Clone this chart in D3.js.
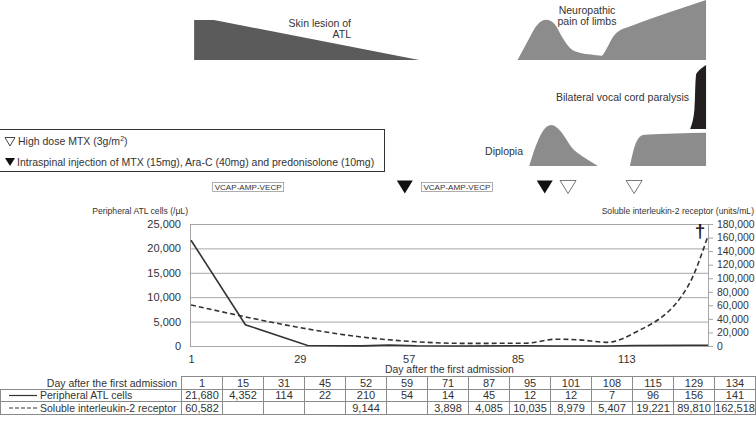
<!DOCTYPE html>
<html><head><meta charset="utf-8">
<script src="https://cdn.jsdelivr.net/npm/d3@7"></script>
<style>
html,body{margin:0;padding:0;background:#fff;}
svg{display:block;font-family:"Liberation Sans",Arial,sans-serif;}
</style></head><body>
<svg id="chart" width="756" height="424"></svg>
<script>
// ---------------- data ----------------
const days = [1, 15, 31, 45, 52, 59, 71, 87, 95, 101, 108, 115, 129, 134];
const atlCells = [21680, 4352, 114, 22, 210, 54, 14, 45, 12, 12, 7, 96, 156, 141];
const sil2r = [60582, null, null, null, 9144, null, 3898, 4085, 10035, 8979, 5407, 19221, 89810, 162518];
const xTicks = [1, 29, 57, 85, 113];
const leftTicks = [0, 5000, 10000, 15000, 20000, 25000];
const rightTicks = [0, 20000, 40000, 60000, 80000, 100000, 120000, 140000, 160000, 180000];
const seriesNames = ["Peripheral ATL cells", "Soluble interleukin-2 receptor"];
const leftTitle = "Peripheral ATL cells (/\u03bcL)";
const rightTitle = "Soluble interleukin-2 receptor (units/mL)";
const xTitle = "Day after the first admission";
const deathDay = 134;

// treatments
const intrathecalDays = [56, 92];
const hdMtxDays = [98, 115];
const vcapCenters = [15.7, 69.4];
const vcapLabel = "VCAP-AMP-VECP";

// symptom shapes: [day, relative intensity 0..1]
const skinLesion = [[1.8, 0.667], [6.9, 0.667], [59.7, 0]];
const neuropathic = [[85, 0], [87.5, 0.3], [90, 0.58], [92.4, 0.67], [94.5, 0.6], [96.5, 0.38], [98.5, 0.2], [101, 0.12], [104, 0.09], [106.6, 0.07], [108, 0.2], [109.5, 0.38], [111.5, 0.5], [113.5, 0.55], [133.5, 1]];
const diplopiaA = [[88, 0], [90.3, 0.63], [92.2, 0.93], [93.7, 1], [95.2, 0.93], [96.5, 0.8], [98.8, 0.47], [102.3, 0.2], [105.7, 0]];
const diplopiaB = [[113.9, 0], [115.1, 0.47], [116.4, 0.71], [117.7, 0.76], [133.5, 0.81]];
// vocal cord: [intensity, left edge day]
const vocalCord = [[0, 129.4], [0.11, 130.0], [0.3, 130.5], [0.61, 130.7], [0.84, 130.9], [0.92, 131.8], [1, 133.5]];

// ---------------- drawing ----------------
const svg = d3.select("#chart");
const txt = "#333";
const grid = "#a6a6a6";

const x = d3.scaleLinear().domain([1, 134]).range([191, 708]);
const plotL = 190, plotR = 708, plotT = 224, plotB = 346;
const yL = d3.scaleLinear().domain([0, 25000]).range([plotB, plotT]);
const yR = d3.scaleLinear().domain([0, 180000]).range([plotB, plotT]);

// symptom rows
const rowTop = d3.scaleLinear().domain([0, 1]).range([60, 0]);
const rowVocal = d3.scaleLinear().domain([0, 1]).range([129, 65]);
const rowDip = d3.scaleLinear().domain([0, 1]).range([166, 125]);

function areaFor(yScale, curve) {
  return d3.area().x(d => x(d[0])).y0(yScale(0)).y1(d => yScale(d[1])).curve(curve);
}
svg.append("path").attr("d", areaFor(rowTop, d3.curveLinear)(skinLesion)).attr("fill", "#5b5b5b");
svg.append("path").attr("d", areaFor(rowTop, d3.curveMonotoneX)(neuropathic)).attr("fill", "#8c8c8c");
svg.append("path").attr("d", areaFor(rowDip, d3.curveMonotoneX)(diplopiaA)).attr("fill", "#8c8c8c");
svg.append("path").attr("d", areaFor(rowDip, d3.curveMonotoneX)(diplopiaB)).attr("fill", "#8c8c8c");
svg.append("path")
  .attr("d", d3.area().y(d => rowVocal(d[0])).x0(d => x(d[1])).x1(x(133.5)).curve(d3.curveMonotoneY)(vocalCord))
  .attr("fill", "#231f20");

const symFont = "10.5px";
function multiText(lines, xx, y0, lh, anchor) {
  const t = svg.append("text").attr("x", xx).attr("y", y0).attr("text-anchor", anchor)
    .attr("font-size", symFont).attr("fill", txt);
  lines.forEach((l, i) => t.append("tspan").attr("x", xx).attr("dy", i === 0 ? 0 : lh).text(l));
}
multiText(["Skin lesion of", "ATL"], 351, 27, 10.5, "end");
multiText(["Neuropathic", "pain of limbs"], 587, 14, 10.8, "middle");
multiText(["Bilateral vocal cord paralysis"], 689, 101, 0, "end");
multiText(["Diplopia"], 523, 155, 0, "end");

// legend box
svg.append("rect").attr("x", -0.5).attr("y", 129.5).attr("width", 385).attr("height", 42)
  .attr("fill", "none").attr("stroke", "#333").attr("stroke-width", 1);
function tri(cx, top, w, h) {
  return `M${cx - w / 2},${top}L${cx + w / 2},${top}L${cx},${top + h}Z`;
}
svg.append("path").attr("d", tri(10, 137.5, 10, 8.5)).attr("fill", "#fff").attr("stroke", "#333").attr("stroke-width", 0.9);
svg.append("path").attr("d", tri(10, 158, 10, 8)).attr("fill", "#111");
const lg1 = svg.append("text").attr("x", 18).attr("y", 144.5).attr("font-size", "10.5px").attr("fill", txt);
lg1.append("tspan").text("High dose MTX (3g/m");
lg1.append("tspan").attr("font-size", "7px").attr("dy", -4).text("2");
lg1.append("tspan").attr("dy", 4).text(")");
svg.append("text").attr("x", 17).attr("y", 165.5).attr("font-size", "10.5px").attr("fill", txt)
  .text("Intraspinal injection of MTX (15mg), Ara-C (40mg) and predonisolone (10mg)");

// treatment markers
const trTop = 180.5, trW = 16, trH = 13;
svg.selectAll(".it").data(intrathecalDays).join("path").attr("class", "it")
  .attr("d", d => tri(x(d), trTop, trW, trH)).attr("fill", "#111");
svg.selectAll(".hd").data(hdMtxDays).join("path").attr("class", "hd")
  .attr("d", d => tri(x(d), trTop, trW, trH)).attr("fill", "#fff").attr("stroke", "#555").attr("stroke-width", 0.8);
const vc = svg.selectAll(".vc").data(vcapCenters).join("g").attr("class", "vc");
vc.append("rect").attr("x", d => x(d) - 35.5).attr("y", 182.5).attr("width", 71).attr("height", 9)
  .attr("fill", "#fff").attr("stroke", "#999").attr("stroke-width", 0.8);
vc.append("text").attr("x", d => x(d)).attr("y", 190.3).attr("text-anchor", "middle")
  .attr("font-size", "8.1px").attr("fill", txt).text(vcapLabel);

// axis titles
svg.append("text").attr("x", 188).attr("y", 214).attr("text-anchor", "end").attr("font-size", "8.6px").attr("fill", txt).text(leftTitle);
svg.append("text").attr("x", 754).attr("y", 214).attr("text-anchor", "end").attr("font-size", "8.6px").attr("fill", txt).text(rightTitle);

// axes
const fmt = d3.format(",");
const gL = svg.append("g").attr("transform", `translate(${plotL},0)`)
  .call(d3.axisLeft(yL).tickValues(leftTicks).tickFormat(fmt).tickSize(-(plotR - plotL)).tickSizeOuter(0).tickPadding(9));
gL.selectAll(".tick line").attr("stroke", grid);
gL.select(".domain").attr("stroke", grid);
gL.selectAll("text").attr("font-size", "11px").attr("fill", txt);
gL.attr("font-family", null);

const gR = svg.append("g").attr("transform", `translate(${plotR},0)`)
  .call(d3.axisRight(yR).tickValues(rightTicks).tickFormat(fmt).tickSize(5).tickSizeOuter(0).tickPadding(4));
gR.selectAll(".tick line").attr("stroke", grid);
gR.select(".domain").attr("stroke", grid);
gR.selectAll("text").attr("font-size", "10.4px").attr("fill", txt);
gR.attr("font-family", null);

const gB = svg.append("g").attr("transform", `translate(0,${plotB})`)
  .call(d3.axisBottom(x).tickValues(xTicks).tickSize(0).tickPadding(9));
gB.select(".domain").remove();
gB.selectAll("text").attr("font-size", "11px").attr("fill", txt);
gB.attr("font-family", null);

svg.append("text").attr("x", 385).attr("y", 373).attr("font-size", "10.4px").attr("fill", txt).text(xTitle);

// series
const solidData = days.map((d, i) => [d, atlCells[i]]);
const dashData = days.map((d, i) => [d, sil2r[i]]).filter(d => d[1] != null);
svg.append("path").attr("d", d3.line().x(d => x(d[0])).y(d => yL(d[1]))(solidData))
  .attr("fill", "none").attr("stroke", "#333").attr("stroke-width", 1.6);
svg.append("path").attr("d", d3.line().x(d => x(d[0])).y(d => yR(d[1])).curve(d3.curveMonotoneX)(dashData))
  .attr("fill", "none").attr("stroke", "#333").attr("stroke-width", 1.6).attr("stroke-dasharray", "5,3");

// dagger
svg.append("text").attr("x", x(deathDay) - 8).attr("y", 237).attr("text-anchor", "middle")
  .attr("font-size", "19px").attr("font-weight", "bold").attr("fill", "#222").text("\u2020");

// table
const tblX0 = 181, colW = 41;
const rowYs = [376.5, 389.5, 401.5, 414.5];
const tb = svg.append("g");
const border = "#8a8a8a";
// header cells
tb.selectAll(".hc").data(days).join("rect").attr("class", "hc")
  .attr("x", (d, i) => tblX0 + i * colW + 0.5).attr("y", rowYs[0]).attr("width", colW).attr("height", rowYs[1] - rowYs[0])
  .attr("fill", "none").attr("stroke", border);
// body rows
[1, 2].forEach(r => {
  tb.append("rect").attr("x", 0.5).attr("y", rowYs[r]).attr("width", tblX0).attr("height", rowYs[r + 1] - rowYs[r])
    .attr("fill", "none").attr("stroke", border);
  tb.selectAll(".bc" + r).data(days).join("rect").attr("class", "bc" + r)
    .attr("x", (d, i) => tblX0 + i * colW + 0.5).attr("y", rowYs[r]).attr("width", colW).attr("height", rowYs[r + 1] - rowYs[r])
    .attr("fill", "none").attr("stroke", border);
});
const rowMid = r => (rowYs[r] + rowYs[r + 1]) / 2;
tb.append("text").attr("x", 177).attr("y", rowMid(0)).attr("dy", "0.35em").attr("text-anchor", "end")
  .attr("font-size", "10.5px").attr("fill", txt).text(xTitle);
const rowsVals = [days, atlCells, sil2r];
rowsVals.forEach((vals, r) => {
  tb.selectAll(".v" + r).data(vals).join("text").attr("class", "v" + r)
    .attr("x", (d, i) => tblX0 + i * colW + colW / 2 + 0.5).attr("y", rowMid(r)).attr("dy", "0.35em")
    .attr("text-anchor", "middle").attr("font-size", "11px").attr("fill", txt)
    .text(d => d == null ? "" : (r === 0 ? d : fmt(d)));
});
// series labels in table
tb.append("line").attr("x1", 9).attr("x2", 37).attr("y1", rowMid(1)).attr("y2", rowMid(1)).attr("stroke", "#333").attr("stroke-width", 1.2);
tb.append("line").attr("x1", 9).attr("x2", 37).attr("y1", rowMid(2)).attr("y2", rowMid(2)).attr("stroke", "#333").attr("stroke-width", 1.2).attr("stroke-dasharray", "4,2");
seriesNames.forEach((n, i) => {
  tb.append("text").attr("x", 40).attr("y", rowMid(i + 1)).attr("dy", "0.35em").attr("font-size", "10.5px").attr("fill", txt).text(n);
});
</script>
</body></html>
